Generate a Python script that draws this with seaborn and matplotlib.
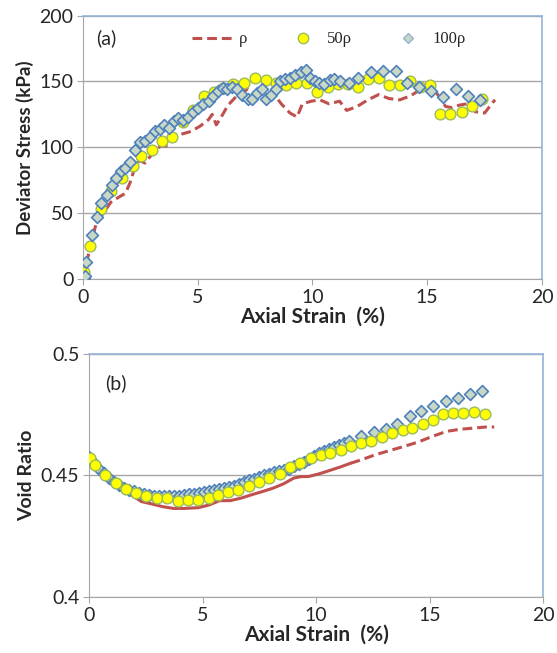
import numpy as np
import pandas as pd
import matplotlib
matplotlib.use("Agg")
import matplotlib.pyplot as plt
from matplotlib.lines import Line2D
import seaborn as sns

sns.set_style("white")
plt.rcParams['font.family'] = ['Lato', 'DejaVu Sans']

RED = "#C0504D"
YEL = "#FFFF00"
YEL_EDGE = "#9BBB59"
DIA_FACE = "#C9D8C5"
DIA_EDGE = "#4F81BD"

# ---- (a) deviator stress ----
rho_strain = [0.0, 0.15, 0.4, 0.6, 0.9, 1.2, 1.55, 1.85, 2.05, 2.25, 2.45, 2.7, 2.93, 3.16, 3.4, 3.7,
              3.93, 4.3, 4.7, 5.1, 5.47, 5.63, 5.81, 6.09, 6.32, 6.7, 7.17, 7.48, 7.86, 8.33, 8.64,
              9.02, 9.33, 9.56, 9.95, 10.33, 10.72, 11.18, 11.49, 11.95, 12.41, 12.88, 13.34, 13.8,
              14.26, 14.73, 15.1, 15.42, 15.8, 16.1, 16.4, 16.73, 17.1, 17.5, 17.9, 17.96]
rho_stress = [1, 12, 30, 44, 50, 58, 62, 65, 73, 84, 90, 88, 93, 98, 101, 101,
              108, 110, 112, 116, 121, 125, 117, 125, 132, 139, 144, 140, 140, 140, 133,
              126, 123, 133, 135, 136, 133, 135, 128, 131, 136, 140, 137, 136,
              139, 144, 147, 141, 131, 130, 132, 133, 127, 126, 135, 136]

s50_strain = [0.03, 0.3, 0.77, 1.23, 1.7, 2.16, 2.54, 3.0, 3.44, 3.9, 4.35, 4.8, 5.27, 5.7, 6.1,
              6.55, 7.0, 7.5, 7.97, 8.4, 8.86, 9.3, 9.75, 10.2, 10.66, 11.1, 11.56, 12.0, 12.43,
              12.9, 13.34, 13.8, 14.25, 14.7, 15.13, 15.56, 16.0, 16.5, 16.93, 17.38]
s50_stress = [5, 25, 53, 67, 77, 86, 93, 98, 105, 108, 119, 128, 139, 142, 145,
              148, 149, 153, 151, 149, 147, 149, 149, 142, 146, 148, 148, 146, 152,
              153, 147, 147, 150, 146, 147, 125, 125, 127, 131, 137]

s100_strain = [0.03, 0.08, 0.15, 0.39, 0.59, 0.8, 1.03, 1.25, 1.46, 1.67, 1.85, 2.05, 2.27, 2.47,
               2.7, 2.93, 3.13, 3.35, 3.55, 3.75, 3.96, 4.16, 4.36, 4.58, 4.8, 5.01, 5.24, 5.47,
               5.67, 5.89, 6.09, 6.29, 6.51, 6.71, 6.94, 7.17, 7.37, 7.59, 7.79, 7.99, 8.2, 8.4,
               8.6, 8.82, 9.02, 9.25, 9.48, 9.72, 9.9, 10.1, 10.3, 10.52, 10.75, 10.95, 11.18,
               11.57, 12.0, 12.54, 13.06, 13.65, 14.1, 14.65, 15.16, 15.68, 16.24, 16.78, 17.3]
s100_stress = [1, 2.5, 13, 33, 47, 58, 64, 71, 77, 82, 84, 89, 98, 104,
               105, 108, 112, 114, 117, 115, 120, 122, 121, 123, 127, 130, 133, 135,
               139, 143, 145, 144, 146, 144, 140, 137, 137, 141, 144, 137, 140, 144,
               150, 152, 153, 155, 157, 159, 153, 150, 149, 148, 151, 152, 150,
               149, 153, 157, 158, 158, 149, 146, 143, 138, 144, 139, 136]

# ---- (b) void ratio ----
void_rho_strain = [0.0, 0.75, 1.37, 1.84, 2.31, 2.78, 3.25, 3.72, 4.18, 4.81, 5.28, 5.75, 6.21,
                   6.68, 7.15, 7.62, 8.09, 8.56, 9.02, 9.34, 9.65, 10.12, 10.59, 11.05, 11.52,
                   11.99, 12.61, 13.24, 13.86, 14.49, 15.11, 15.74, 16.36, 16.99, 17.45, 17.85]
void_rho = [0.4574, 0.4495, 0.4447, 0.4420, 0.4392, 0.4382, 0.4371, 0.4364, 0.4364, 0.4367,
            0.4378, 0.4396, 0.4396, 0.4406, 0.4420, 0.4433, 0.4447, 0.4465, 0.4489, 0.4495,
            0.4495, 0.4506, 0.4520, 0.4534, 0.4550, 0.4564, 0.4585, 0.4602, 0.4619, 0.4637,
            0.4660, 0.4681, 0.4690, 0.4695, 0.4699, 0.4699]
solid_end = 25  # excel draws the dense early part as a solid stroke

void50_strain = [0.06, 0.28, 0.72, 1.17, 1.61, 2.05, 2.5, 2.97, 3.43, 3.9, 4.34, 4.81, 5.28, 5.7,
                 6.14, 6.57, 7.04, 7.5, 7.93, 8.4, 8.84, 9.3, 9.76, 10.2, 10.63, 11.09, 11.52,
                 11.99, 12.43, 12.9, 13.35, 13.82, 14.22, 14.69, 15.14, 15.58, 16.05, 16.49, 16.96,
                 17.42]
void50 = [0.4571, 0.4541, 0.4500, 0.4468, 0.4444, 0.4426, 0.4417, 0.4406, 0.4406, 0.4396,
          0.4399, 0.4399, 0.4406, 0.4420, 0.4431, 0.4440, 0.4458, 0.4472, 0.4488, 0.4506,
          0.4534, 0.4550, 0.4571, 0.4582, 0.4591, 0.4605, 0.4622, 0.4635, 0.4642, 0.4657,
          0.4674, 0.4685, 0.4697, 0.4713, 0.4729, 0.4752, 0.4757, 0.4757, 0.4759, 0.4752]

void100_strain = [0.0, 0.22, 0.44, 0.66, 0.88, 1.1, 1.32, 1.54, 1.76, 1.98, 2.2, 2.42, 2.64, 2.86,
                  3.08, 3.3, 3.52, 3.74, 3.96, 4.18, 4.4, 4.62, 4.84, 5.06, 5.28, 5.5, 5.72, 5.94,
                  6.16, 6.38, 6.6, 6.82, 7.04, 7.26, 7.48, 7.7, 7.92, 8.14, 8.36, 8.58, 8.8, 9.02,
                  9.24, 9.46, 9.68, 9.9, 10.12, 10.34, 10.56, 10.78, 11.0, 11.22, 11.44, 11.99,
                  12.54, 13.08, 13.58, 14.13, 14.64, 15.14, 15.71, 16.25, 16.78, 17.3]
void100 = [0.4574, 0.4550, 0.4528, 0.4508, 0.4490, 0.4474, 0.4461, 0.4450, 0.4441, 0.4434,
           0.4428, 0.4423, 0.4419, 0.4417, 0.4415, 0.4414, 0.4414, 0.4415, 0.4417, 0.4420,
           0.4423, 0.4425, 0.4428, 0.4431, 0.4434, 0.4438, 0.4442, 0.4447, 0.4452, 0.4458,
           0.4465, 0.4472, 0.4479, 0.4486, 0.4493, 0.4500, 0.4507, 0.4512, 0.4516, 0.4521,
           0.4528, 0.4537, 0.4547, 0.4557, 0.4568, 0.4580, 0.4592, 0.4602, 0.4610, 0.4617,
           0.4624, 0.4632, 0.4640, 0.4663, 0.4678, 0.4692, 0.4713, 0.4743, 0.4766, 0.4787,
           0.4807, 0.4818, 0.4835, 0.4849]

fig = plt.figure(figsize=(5.57, 6.53), dpi=100)
ax1 = fig.add_axes([0.149, 0.573, 0.824, 0.403])
ax2 = fig.add_axes([0.160, 0.086, 0.815, 0.372])


def style_axes(ax):
    ax.grid(axis="y", color="#a6a6a6", linewidth=1)
    ax.grid(axis="x", visible=False)
    ax.set_axisbelow(True)
    for side in ["left", "bottom"]:
        ax.spines[side].set_color("#a6a6a6")
    for side in ["top", "right"]:
        ax.spines[side].set_color("#95B3D7")
        ax.spines[side].set_linewidth(1.2)
    ax.tick_params(axis="both", labelsize=14, length=4, color="#a6a6a6", direction="out",
                   left=True, bottom=True, pad=3)
    ax.set_xlim(0, 20)
    ax.set_xticks([0, 5, 10, 15, 20])
    ax.set_xlabel("Axial Strain  (%)", fontsize=15, fontweight="bold", labelpad=1)


# top panel
sns.lineplot(x=rho_strain, y=rho_stress, ax=ax1, color=RED, linewidth=2.2,
             linestyle=(0, (3.2, 1.6)), sort=False, zorder=2)
sns.scatterplot(x=s50_strain, y=s50_stress, ax=ax1, color=YEL, edgecolor=YEL_EDGE,
                linewidth=1.0, s=60, marker="o", zorder=3)
sns.scatterplot(x=s100_strain, y=s100_stress, ax=ax1, color=DIA_FACE, edgecolor=DIA_EDGE,
                linewidth=1.2, s=36, marker="D", zorder=4)
style_axes(ax1)
ax1.set_ylim(0, 200)
ax1.set_yticks([0, 50, 100, 150, 200])
ax1.set_ylabel("Deviator Stress (kPa)", fontsize=13.5, fontweight="bold", labelpad=4)
ax1.text(1.0, 183, "(a)", fontsize=14, ha="center", va="center")

handles = [
    Line2D([], [], color=RED, linewidth=2.2, linestyle=(0, (3.2, 1.6))),
    Line2D([], [], color="none", marker="o", markersize=7.5, markerfacecolor=YEL,
           markeredgecolor=YEL_EDGE, markeredgewidth=1.0),
    Line2D([], [], color="none", marker="D", markersize=5.5, markerfacecolor=DIA_FACE,
           markeredgecolor="#95B3D7", markeredgewidth=1.0),
]
ax1.legend(handles, ["ρ", "50ρ", "100ρ"], ncol=3, frameon=False, loc="center left",
           bbox_to_anchor=(0.205, 0.91), prop={"family": "Liberation Serif", "size": 12},
           handlelength=2.65, handletextpad=0.15, columnspacing=2.0)

# bottom panel
sns.lineplot(x=void_rho_strain[:solid_end], y=void_rho[:solid_end], ax=ax2, color=RED,
             linewidth=2.2, sort=False, zorder=2)
sns.lineplot(x=void_rho_strain[solid_end - 1:], y=void_rho[solid_end - 1:], ax=ax2, color=RED,
             linewidth=2.2, linestyle=(0, (3.2, 1.6)), sort=False, zorder=2)
sns.scatterplot(x=void100_strain, y=void100, ax=ax2, color=DIA_FACE, edgecolor=DIA_EDGE,
                linewidth=1.2, s=36, marker="D", zorder=3)
sns.scatterplot(x=void50_strain, y=void50, ax=ax2, color=YEL, edgecolor=YEL_EDGE,
                linewidth=1.0, s=60, marker="o", zorder=4)
style_axes(ax2)
ax2.set_ylim(0.4, 0.5)
ax2.set_yticks([0.4, 0.45, 0.5])
ax2.set_yticklabels(["0.4", "0.45", "0.5"])
ax2.set_ylabel("Void Ratio", fontsize=14, fontweight="bold", labelpad=4)
ax2.text(1.2, 0.488, "(b)", fontsize=14, ha="center", va="center")

fig.savefig("out.png", dpi=100)
